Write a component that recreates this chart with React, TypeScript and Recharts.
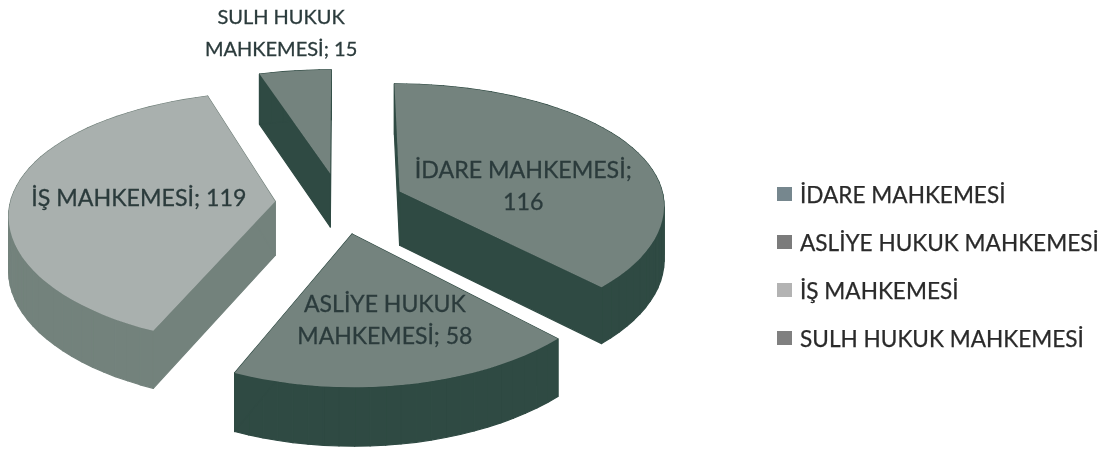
import { PieChart, Pie, Legend } from 'recharts'

const courts = ['İDARE MAHKEMESİ', 'ASLİYE HUKUK MAHKEMESİ', 'İŞ MAHKEMESİ', 'SULH HUKUK MAHKEMESİ']
const caseCounts = [116, 58, 119, 15]
const topColors = ['#74837e', '#74837e', '#a9b0ae', '#74837e']
const wallColors = ['#2f4a43', '#2f4a43', '#73827c', '#2f4a43']
const legendColors = ['#76878e', '#7b7b7b', '#b3b3b3', '#808080']
const labelBreaks = [
  ['İDARE MAHKEMESİ;', '116'],
  ['ASLİYE HUKUK', 'MAHKEMESİ; 58'],
  ['İŞ MAHKEMESİ; 119'],
  ['SULH HUKUK', 'MAHKEMESİ; 15'],
]

const chartData = courts.map((name, i) => ({
  name,
  value: caseCounts[i],
  fill: topColors[i],
  wall: wallColors[i],
  lines: labelBreaks[i],
}))

// fake 3d tilt, Recharts only gives circles
const TILT = 0.47
const PERSPECTIVE = 0.13
const EXPLODE = 0.245
const DEPTH = 54
const labelSpots = [
  { r: 0.523, dy: 18, size: 23.2 },
  { r: 0.606, dy: 0, size: 23 },
  { r: 0.518, dy: 0, size: 23.2 },
  { r: 1.445, dy: 0, size: 20 },
]

const RAD = Math.PI / 180

function project(cx: number, cy: number, radius: number, u: number, v: number) {
  const s = 1 / (1 - PERSPECTIVE * v)
  return { x: cx + u * radius * Math.pow(s, 0.75), y: cy + v * radius * TILT * s, s }
}

function toPath(points: { x: number; y: number }[]) {
  return points.map((p, i) => `${i ? 'L' : 'M'}${p.x.toFixed(1)} ${p.y.toFixed(1)}`).join(' ') + ' Z'
}

function Slice(props: any) {
  const { cx, cy, outerRadius, startAngle, endAngle, fill, payload } = props
  const mid = ((startAngle + endAngle) / 2) * RAD
  const ex = Math.cos(mid) * EXPLODE
  const ey = -Math.sin(mid) * EXPLODE
  const steps = Math.max(4, Math.ceil(Math.abs(endAngle - startAngle) / 3))
  const top = [project(cx, cy, outerRadius, ex, ey)]
  for (let i = 0; i <= steps; i++) {
    const a = (startAngle + ((endAngle - startAngle) * i) / steps) * RAD
    top.push(project(cx, cy, outerRadius, ex + Math.cos(a), ey - Math.sin(a)))
  }
  const drop = (p: { x: number; y: number; s: number }) => ({ x: p.x, y: p.y + DEPTH * Math.sqrt(p.s) })
  const walls = top.map((p, i) => {
    const next = top[(i + 1) % top.length]
    return toPath([p, next, drop(next), drop(p)])
  })
  const wallColor = payload?.wall ?? props.wall
  return (
    <g>
      {walls.map((d, i) => (
        <path key={i} d={d} fill={wallColor} stroke={wallColor} strokeWidth={1.2} strokeLinejoin="round" />
      ))}
      <path d={toPath(top)} fill={fill} />
    </g>
  )
}

function SliceLabel(props: any) {
  const { cx, cy, outerRadius, midAngle, index } = props
  const spot = labelSpots[index]
  const a = midAngle * RAD
  const p = project(cx, cy, outerRadius, Math.cos(a) * (EXPLODE + spot.r), -Math.sin(a) * (EXPLODE + spot.r))
  const lines = chartData[index].lines
  const lineHeight = 32
  return (
    <text
      x={p.x}
      y={p.y + spot.dy}
      textAnchor="middle"
      fontSize={spot.size}
      fill="#2b3b3c"
      stroke="#2b3b3c"
      strokeWidth={0.3}
      fontFamily="Lato, sans-serif"
    >
      {lines.map((line, i) => (
        <tspan key={i} x={p.x} y={p.y + spot.dy + 8 + (i - (lines.length - 1) / 2) * lineHeight}>
          {line}
        </tspan>
      ))}
    </text>
  )
}

function CourtLegend() {
  return (
    <div style={{ fontFamily: 'Lato, sans-serif', fontSize: 22.6, color: '#2a2a2a', WebkitTextStroke: '0.25px #2a2a2a' }}>
      {courts.map((name, i) => (
        <div key={name} style={{ display: 'flex', alignItems: 'center', height: 48, whiteSpace: 'nowrap' }}>
          <span style={{ width: 15, height: 14, background: legendColors[i], marginRight: 8 }} />
          {name}
        </div>
      ))}
    </div>
  )
}

export default function App() {
  return (
    <div style={{ position: 'absolute', left: 0, top: 0, width: 1110, height: 452, background: '#fff', filter: 'blur(0.6px)' }}>
      <PieChart width={1110} height={452} margin={{ top: 0, right: 0, bottom: 0, left: 0 }}>
        <Pie
          data={chartData}
          dataKey="value"
          nameKey="name"
          cx={340}
          cy={203}
          outerRadius={265}
          startAngle={90}
          endAngle={-270}
          stroke="none"
          shape={Slice}
          label={SliceLabel}
          labelLine={false}
          isAnimationActive={false}
        />
        <Legend
          layout="vertical"
          content={<CourtLegend />}
          wrapperStyle={{ left: 777, top: 170, width: 333, bottom: 'auto' }}
        />
      </PieChart>
    </div>
  )
}
